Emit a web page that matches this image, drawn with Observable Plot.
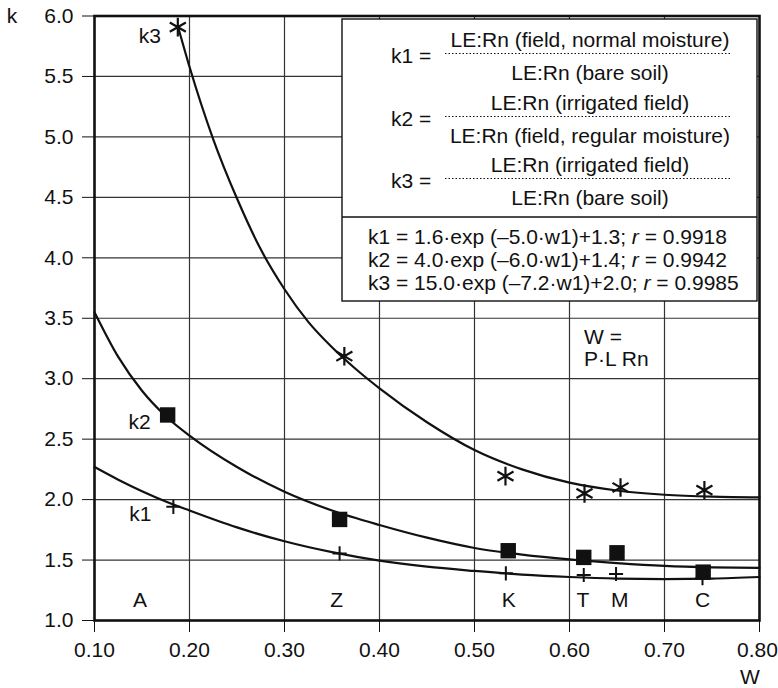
<!DOCTYPE html>
<html><head><meta charset="utf-8">
<script src="https://cdn.jsdelivr.net/npm/d3@7"></script>
<script src="https://cdn.jsdelivr.net/npm/@observablehq/plot@0.6"></script>
<style>body{margin:0;background:#fff}#chart svg{display:block}</style>
</head><body><div id="chart"></div>
<script>
// ---- data ----
const k1W = [0.183, 0.358, 0.533, 0.615, 0.649, 0.740];
const k1Val = [1.94, 1.555, 1.39, 1.376, 1.384, 1.35];
const k2W = [0.177, 0.358, 0.5355, 0.615, 0.650, 0.7407];
const k2Val = [2.70, 1.836, 1.577, 1.522, 1.56, 1.40];
const k3W = [0.1877, 0.363, 0.5326, 0.6158, 0.6537, 0.742];
const k3Val = [5.908, 3.186, 2.194, 2.051, 2.10, 2.078];

const fitW12 = [0.10, 0.125, 0.15, 0.175, 0.20, 0.25, 0.30, 0.35, 0.40, 0.45, 0.50, 0.55, 0.60, 0.65, 0.70, 0.75, 0.80];
const fitK1 = [2.27, 2.165, 2.07, 1.985, 1.91, 1.77, 1.655, 1.565, 1.495, 1.445, 1.41, 1.38, 1.36, 1.347, 1.343, 1.347, 1.36];
const fitK2 = [3.55, 3.18, 2.90, 2.69, 2.53, 2.27, 2.065, 1.91, 1.79, 1.685, 1.60, 1.545, 1.505, 1.475, 1.452, 1.44, 1.435];
const fitW3 = [0.188, 0.20, 0.225, 0.25, 0.275, 0.30, 0.325, 0.35, 0.375, 0.40, 0.45, 0.50, 0.55, 0.60, 0.65, 0.70, 0.75, 0.80];
const fitK3 = [5.91, 5.58, 4.98, 4.49, 4.07, 3.74, 3.47, 3.26, 3.08, 2.92, 2.64, 2.41, 2.25, 2.14, 2.075, 2.04, 2.024, 2.018];

const siteNames = ["A", "Z", "K", "T", "M", "C"];
const siteW = [0.148, 0.355, 0.536, 0.614, 0.653, 0.740];

const xTicks = [0.10, 0.20, 0.30, 0.40, 0.50, 0.60, 0.70, 0.80];
const yTicks = [1.0, 1.5, 2.0, 2.5, 3.0, 3.5, 4.0, 4.5, 5.0, 5.5, 6.0];

const legendKeys = ["k1 =", "k2 =", "k3 ="];
const legendNum = ["LE:Rn (field, normal moisture)", "LE:Rn (irrigated field)", "LE:Rn (irrigated field)"];
const legendDen = ["LE:Rn (bare soil)", "LE:Rn (field, regular moisture)", "LE:Rn (bare soil)"];
const eqText = ["k1 = 1.6·exp (–5.0·w1)+1.3; ", "k2 = 4.0·exp (–6.0·w1)+1.4; ", "k3 = 15.0·exp (–7.2·w1)+2.0; "];
const eqR = ["0.9918", "0.9942", "0.9985"];
const wNote = ["W =", "P·L Rn"];

const ink = "#111";
const font = "'Liberation Sans', Arial, Helvetica, sans-serif";
const fs = 21;

const pts = (W, V) => W.map((w, i) => ({w, k: V[i]}));
const k1 = pts(k1W, k1Val), k2 = pts(k2W, k2Val), k3 = pts(k3W, k3Val);
const c1 = pts(fitW12, fitK1), c2 = pts(fitW12, fitK2), c3 = pts(fitW3, fitK3);

const plot = Plot.plot({
  width: 778, height: 688,
  marginLeft: 94, marginRight: 19, marginTop: 15.5, marginBottom: 68,
  style: {fontFamily: font, fontSize: fs + "px", color: ink, background: "#fff", overflow: "visible"},
  x: {domain: [0.1, 0.8], ticks: xTicks, tickFormat: d3.format(".2f"), tickSize: 12, tickPadding: 10, label: null},
  y: {domain: [1, 6], ticks: yTicks, tickFormat: d3.format(".1f"), tickSize: 12, tickPadding: 9, label: null},
  marks: [
    Plot.ruleX(xTicks.slice(1, -1), {stroke: "#333", strokeWidth: 1.2}),
    Plot.ruleY(yTicks.slice(1, -1), {stroke: "#333", strokeWidth: 1.2}),
    Plot.line(c1, {x: "w", y: "k", curve: "monotone-x", stroke: ink, strokeWidth: 2.2}),
    Plot.line(c2, {x: "w", y: "k", curve: "monotone-x", stroke: ink, strokeWidth: 2.2}),
    Plot.line(c3, {x: "w", y: "k", curve: "monotone-x", stroke: ink, strokeWidth: 2.2}),
    Plot.dot(k1, {x: "w", y: "k", symbol: "plus", r: 4.6, stroke: ink, strokeWidth: 2}),
    Plot.dot(k2, {x: "w", y: "k", symbol: "square", r: 8.7, fill: ink, stroke: "none"}),
    Plot.dot(k3, {x: "w", y: "k", symbol: "asterisk", r: 8.8, stroke: ink, strokeWidth: 2.2}),
    Plot.text([k3[0]], {x: "w", y: "k", text: () => "k3", textAnchor: "end", lineAnchor: "middle", dx: -17, dy: 9, fill: ink}),
    Plot.text([k2[0]], {x: "w", y: "k", text: () => "k2", textAnchor: "end", lineAnchor: "middle", dx: -17, dy: 7, fill: ink}),
    Plot.text([k1[0]], {x: "w", y: "k", text: () => "k1", textAnchor: "end", lineAnchor: "middle", dx: -22, dy: 7, fill: ink}),
    Plot.text(siteNames, {x: (d, i) => siteW[i], text: d => d, frameAnchor: "bottom", lineAnchor: "middle", dy: -20, fill: ink}),
    Plot.frame({stroke: ink, strokeWidth: 2.6})
  ]
});
document.getElementById("chart").append(plot);

// keep the last x tick label inside the picture
const svg = d3.select(plot);
const xLabels = svg.selectAll('[aria-label="x-axis tick label"] text');
if (xLabels.size()) d3.select(xLabels.nodes()[xLabels.size() - 1]).attr("dx", -2);

// ---- annotation box (legend) ----
const g = svg.append("g").attr("font-family", font).attr("font-size", fs).attr("text-anchor", "start").attr("fill", ink);
g.append("rect").attr("x", 342).attr("y", 19).attr("width", 415).attr("height", 282)
  .attr("fill", "#fff").attr("stroke", ink).attr("stroke-width", 1.4);
g.append("line").attr("x1", 342).attr("x2", 757).attr("y1", 217).attr("y2", 217).attr("stroke", ink).attr("stroke-width", 1.4);
const fracY = [53.5, 116.5, 178.5];
legendKeys.forEach((key, i) => {
  const y = fracY[i];
  g.append("text").attr("x", 391).attr("y", y + 2).attr("dy", "0.35em").text(key);
  g.append("line").attr("x1", 445).attr("x2", 732).attr("y1", y).attr("y2", y)
    .attr("stroke", ink).attr("stroke-width", 1.2).attr("stroke-dasharray", "1.5,2");
  g.append("text").attr("x", 590).attr("y", y - 14).attr("dy", "0.35em").attr("text-anchor", "middle").text(legendNum[i]);
  g.append("text").attr("x", 590).attr("y", y + 19).attr("dy", "0.35em").attr("text-anchor", "middle").text(legendDen[i]);
});
const eqY = [237, 260, 283];
eqText.forEach((t, i) => {
  const tx = g.append("text").attr("x", 368).attr("y", eqY[i]).attr("dy", "0.35em");
  tx.append("tspan").text(t);
  tx.append("tspan").attr("font-style", "italic").text("r");
  tx.append("tspan").text(" = " + eqR[i]);
});
wNote.forEach((t, i) => {
  g.append("text").attr("x", 584).attr("y", 337 + i * 22).attr("dy", "0.35em").text(t);
});
g.append("text").attr("x", 12).attr("y", 16).attr("dy", "0.35em").attr("text-anchor", "middle").text("k");
g.append("text").attr("x", 750).attr("y", 677).attr("dy", "0.35em").attr("text-anchor", "middle").text("W");
</script>
</body></html>
